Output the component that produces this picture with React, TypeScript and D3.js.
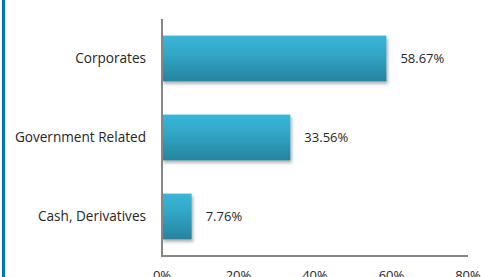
import React, { useEffect, useRef } from 'react';
import * as d3 from 'd3';

const categories = ['Corporates', 'Government Related', 'Cash, Derivatives'];
const values = [58.67, 33.56, 7.76];
const tickValues = [0, 20, 40, 60, 80];

const App = () => {
  const ref = useRef<SVGSVGElement | null>(null);

  useEffect(() => {
    const svg = d3.select(ref.current);
    svg.selectAll('*').remove();

    const width = 481;
    const height = 277;
    const margin = { top: 19, right: 13, bottom: 21, left: 162 };
    const font = "'Open Sans', sans-serif";

    const x = d3.scaleLinear().domain([0, 80]).range([margin.left, width - margin.right]);
    const y = d3.scaleBand()
      .domain(categories)
      .range([margin.top, height - margin.bottom])
      .paddingInner(0.42)
      .paddingOuter(0.21);

    const defs = svg.append('defs');
    const grad = defs.append('linearGradient')
      .attr('id', 'barGrad')
      .attr('x1', 0).attr('y1', 0).attr('x2', 0).attr('y2', 1);
    grad.append('stop').attr('offset', '0%').attr('stop-color', '#38b6d8');
    grad.append('stop').attr('offset', '35%').attr('stop-color', '#33a9c9');
    grad.append('stop').attr('offset', '100%').attr('stop-color', '#2584a0');

    const shadow = defs.append('filter').attr('id', 'shadow')
      .attr('x', '-10%').attr('y', '-10%').attr('width', '130%').attr('height', '140%');
    shadow.append('feDropShadow')
      .attr('dx', 1.5).attr('dy', 2.5).attr('stdDeviation', 1.5)
      .attr('flood-color', '#000').attr('flood-opacity', 0.3);

    // left blue border
    svg.append('rect')
      .attr('x', 2).attr('y', 0).attr('width', 3).attr('height', height)
      .attr('fill', '#0070c0');

    // bars
    svg.append('g')
      .selectAll('rect')
      .data(categories)
      .enter()
      .append('rect')
      .attr('x', x(0))
      .attr('y', d => y(d) as number)
      .attr('width', (d, i) => x(values[i]) - x(0))
      .attr('height', y.bandwidth())
      .attr('fill', 'url(#barGrad)')
      .attr('filter', 'url(#shadow)');

    // value labels
    svg.append('g')
      .selectAll('text')
      .data(categories)
      .enter()
      .append('text')
      .attr('x', (d, i) => x(values[i]) + 14)
      .attr('y', d => (y(d) as number) + y.bandwidth() / 2)
      .attr('dy', '0.35em')
      .attr('font-family', font)
      .attr('font-size', 13)
      .attr('fill', '#262626')
      .text((d, i) => `${values[i].toFixed(2)}%`);

    // category labels
    svg.append('g')
      .selectAll('text')
      .data(categories)
      .enter()
      .append('text')
      .attr('x', margin.left - 16)
      .attr('y', d => (y(d) as number) + y.bandwidth() / 2)
      .attr('dy', '0.35em')
      .attr('text-anchor', 'end')
      .attr('font-family', font)
      .attr('font-size', 13.6)
      .attr('fill', '#262626')
      .text(d => d);

    // axes lines
    const axisY = height - margin.bottom;
    svg.append('line')
      .attr('x1', x(0)).attr('x2', x(0))
      .attr('y1', margin.top).attr('y2', axisY + 1)
      .attr('stroke', '#868686').attr('stroke-width', 2);
    svg.append('line')
      .attr('x1', x(0) - 1).attr('x2', x(80))
      .attr('y1', axisY).attr('y2', axisY)
      .attr('stroke', '#868686').attr('stroke-width', 2);

    // x tick labels
    svg.append('g')
      .selectAll('text')
      .data(tickValues)
      .enter()
      .append('text')
      .attr('x', d => x(d))
      .attr('y', axisY + 24)
      .attr('text-anchor', 'middle')
      .attr('font-family', font)
      .attr('font-size', 13)
      .attr('fill', '#262626')
      .text(d => `${d}%`);
  }, []);

  return (
    <svg
      ref={ref}
      width={481}
      height={277}
      style={{ position: 'absolute', left: 0, top: 0, background: '#fff' }}
    />
  );
};

export default App;
